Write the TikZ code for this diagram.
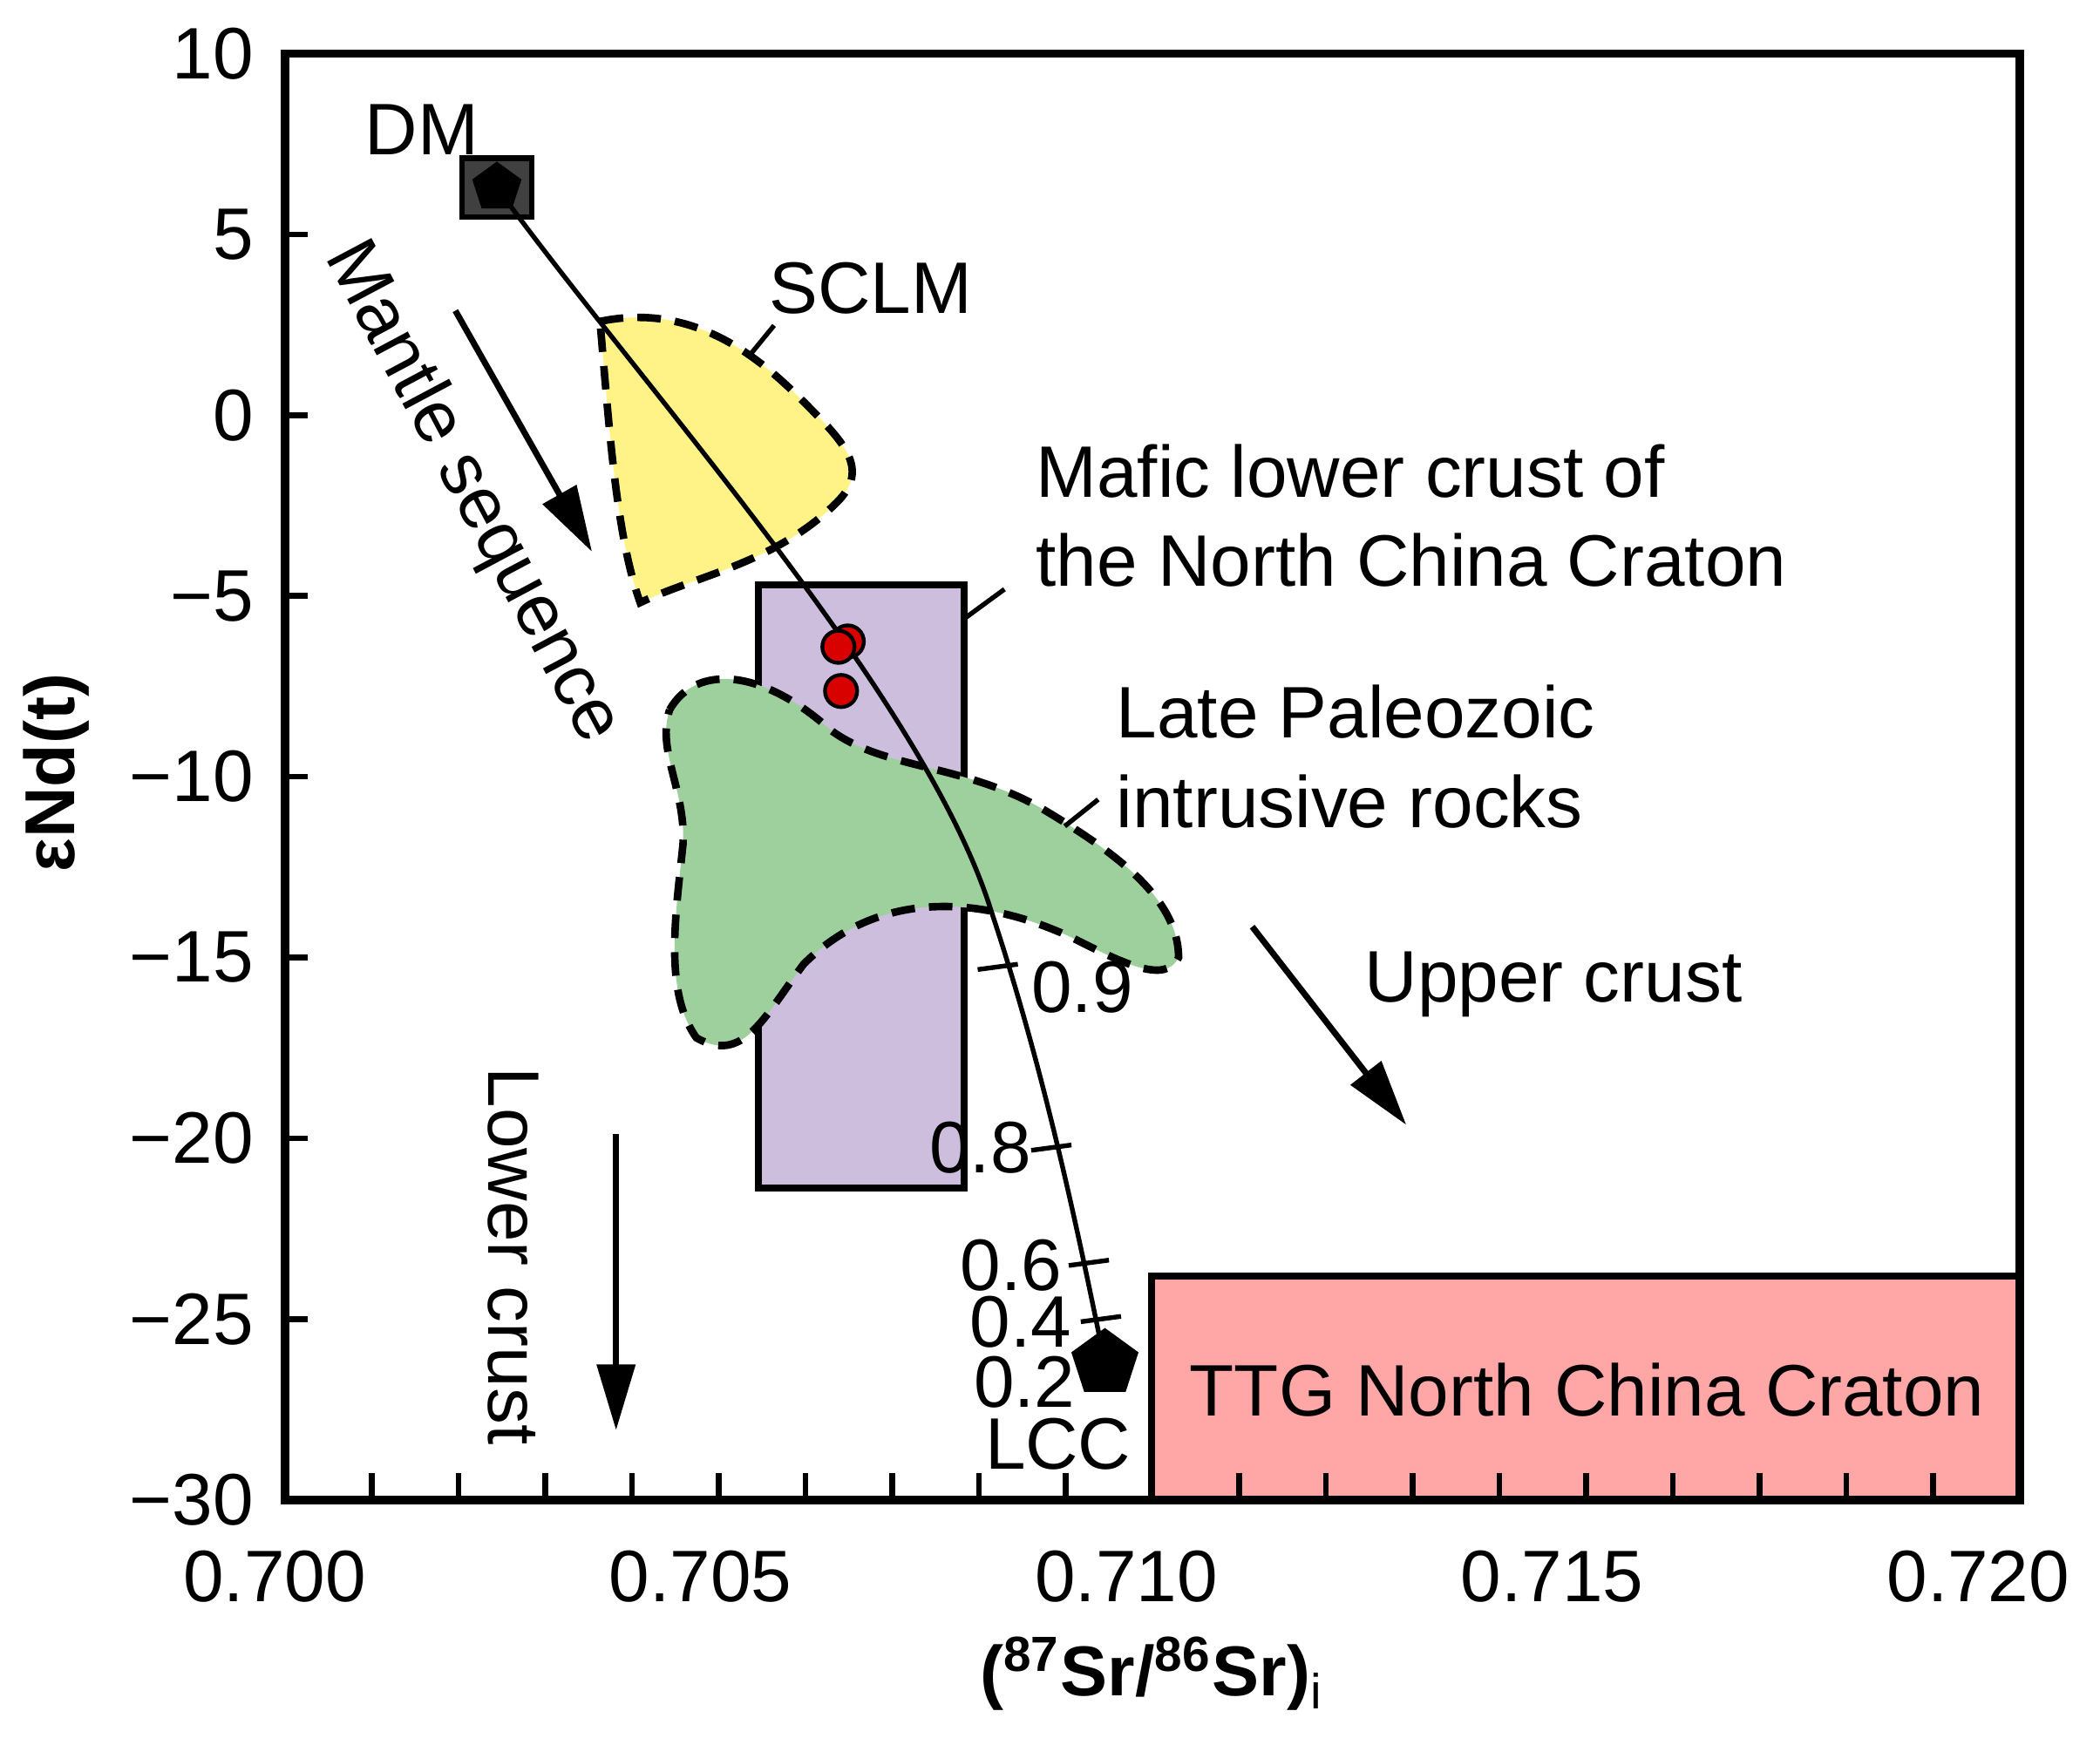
\documentclass[tikz,border=0pt]{standalone}
\usepackage{fontspec}
\setmainfont{Liberation Sans}
\usetikzlibrary{arrows.meta,shapes.geometric}
\begin{document}
\begin{tikzpicture}[x=0.1mm,y=-0.1mm,
  lbl/.style={font=\fontsize{15.5}{17}\selectfont,inner sep=0pt},
  tick/.style={font=\fontsize{15.5}{17}\selectfont,inner sep=0pt},
  zone/.style={draw=black,line width=1.6pt,dash pattern=on 5pt off 3pt},
  arr/.style={-{Triangle[length=14pt,width=8pt]},line width=1.3pt},
  pent/.style={regular polygon,regular polygon sides=5,fill=black,minimum size=15pt,inner sep=0pt}]
\useasboundingbox (0,0) rectangle (1568,1303);
% regions
\fill[red!35!white,draw=black,line width=1.5pt] (860,1120) -- (860,953) -- (1508,953) -- (1508,1120);
\node[lbl] (ttg) at (1185,1038) {TTG North China Craton};
\draw[fill={rgb,255:red,205;green,190;blue,222},line width=1.5pt] (566,437) rectangle (720,887);
\path[fill={rgb,255:red,255;green,243;blue,135}] (448,240) .. controls (520,225) and (570,270) .. (600,300) .. controls (630,330) and (650,350) .. (625,375) .. controls (580,420) and (520,430) .. (478,450) .. controls (460,400) and (455,320) .. (448,240) -- cycle;
\draw[zone] (448,240) .. controls (520,225) and (570,270) .. (600,300) .. controls (630,330) and (650,350) .. (625,375) .. controls (580,420) and (520,430) .. (478,450) .. controls (460,400) and (455,320) .. (448,240);
\path[fill={rgb,255:red,158;green,208;blue,158}] (500,530) .. controls (520,495) and (570,500) .. (620,545) .. controls (660,575) and (720,570) .. (780,605) .. controls (830,635) and (880,670) .. (880,715) .. controls (870,735) and (840,720) .. (800,700) .. controls (740,672) and (660,660) .. (600,720) .. controls (570,760) and (555,795) .. (520,775) .. controls (495,740) and (505,680) .. (510,630) .. controls (512,590) and (490,560) .. (500,530) -- cycle;
\draw[zone] (500,530) .. controls (520,495) and (570,500) .. (620,545) .. controls (660,575) and (720,570) .. (780,605) .. controls (830,635) and (880,670) .. (880,715) .. controls (870,735) and (840,720) .. (800,700) .. controls (740,672) and (660,660) .. (600,720) .. controls (570,760) and (555,795) .. (520,775) .. controls (495,740) and (505,680) .. (510,630) .. controls (512,590) and (490,560) .. (500,530);
% frame
\draw[line width=1.8pt] (213,40) rectangle (1508,1120);
\foreach \i in {1,...,19} {\draw[line width=1.2pt] ({213+64.75*\i},1120) -- ({213+64.75*\i},1100);}
\foreach \v [count=\k from 0] in {10,5,0,−5,−10,−15,−20,−25,−30} {
  \node[tick,anchor=east] (yl\k) at (190,{40+135*\k}) {\v};
  \draw[line width=1.2pt] (213,{40+135*\k}) -- (230,{40+135*\k});}
\foreach \v [count=\k from 0] in {0.700,0.705,0.710,0.715,0.720}
  \node[tick] (xl\k) at ({205+318*\k},1177) {\v};
% mixing curve
\node[draw=black,fill=black!75,line width=1.2pt,minimum width=14.8pt,minimum height=12.5pt,inner sep=0pt] (dmsq) at (371,140) {};
\node[pent,minimum size=11pt] (dm) at (371,140) {};
\node[pent] (lcc) at (825,1018) {};
\draw[line width=1pt] (dm.center) .. controls (480,290) and (690,520) .. (740,680) .. controls (780,800) and (805,920) .. (lcc.center);
\foreach \p/\q in {745/722,785/857,813/943,822/985} \draw[line width=1pt] (\p-15,\q+2) -- (\p+15,\q-2);
\node[tick] (t9) at (808,737) {0.9};
\node[tick] (t8) at (732,857) {0.8};
\node[tick] (t6) at (755,945) {0.6};
\node[tick] (t4) at (762,987) {0.4};
\node[tick] (t2) at (765,1032) {0.2};
\node[lbl] (lcclbl) at (790,1078) {LCC};
\node[lbl] (dmlbl) at (315,97) {DM};
% samples
\foreach \a/\b in {633/479,626/483,628/516} \draw[fill=red!85!black,line width=0.8pt] (\a,\b) circle (12);
% labels
\node[lbl] (sclm) at (650,215) {SCLM};
\draw[line width=1pt] (560,265) -- (578,243);
\node[lbl,anchor=west,align=left] (maf) at (773,385) {Mafic lower crust of\\[2pt]the North China Craton};
\draw[line width=1pt] (720,462) -- (750,440);
\node[lbl,anchor=west,align=left] (lp) at (833,565) {Late Paleozoic\\[2pt]intrusive rocks};
\draw[line width=1pt] (795,617) -- (820,597);
\node[lbl,rotate=-62] (mantle) at (352,368) {Mantle sequence};
\coordinate (m1) at (340,232); \coordinate (m2) at (442,412);
\draw[arr] (m1) -- (m2);
\node[lbl] (uc) at (1160,735) {Upper crust};
\coordinate (u1) at (935,692); \coordinate (u2) at (1050,840);
\draw[arr] (u1) -- (u2);
\node[lbl,rotate=-90] (lc) at (383,938) {Lower crust};
\coordinate (l1) at (460,847); \coordinate (l2) at (460,1068);
\draw[arr] (l1) -- (l2);
% axis titles
\node[tick,font=\fontsize{15}{17}\selectfont\bfseries,rotate=90] (ylab) at (42,577) {εNd(t)};
\node[tick,font=\fontsize{15}{17}\selectfont\bfseries] (xlab) at (860,1250) {($^{\mathbf{87}}$Sr/$^{\mathbf{86}}$Sr)$_{\mathrm{i}}$};
\end{tikzpicture}
\end{document}
